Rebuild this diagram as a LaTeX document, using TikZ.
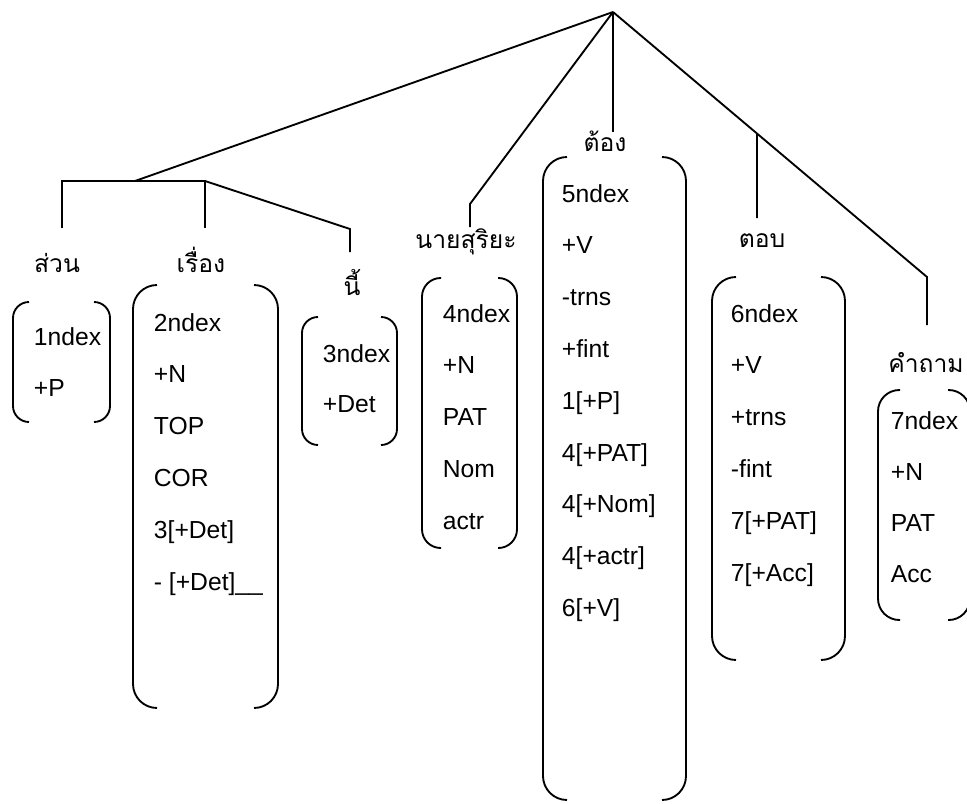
\documentclass[tikz,border=0pt]{standalone}
\usepackage{fontspec}
\setmainfont{Liberation Sans}
\newfontfamily\thaifont[Script=Thai]{Loma}
\usetikzlibrary{calc}

% a pair of tall round brackets: left x, right x, top y, bottom y, corner radius (pt), stub (px)
\newcommand\parenpair[6]{%
  \draw[rounded corners=#5] (#1+#6,#3) -- (#1,#3) -- (#1,#4) -- (#1+#6,#4);
  \draw[rounded corners=#5] (#2-#6,#3) -- (#2,#3) -- (#2,#4) -- (#2-#6,#4);
}

\begin{document}
\begin{tikzpicture}[x=0.75pt,y=-0.75pt,line width=1.4pt,
  item/.style={font=\fontsize{18.5}{22}\selectfont,inner sep=0pt,anchor=base west},
  word/.style={font=\thaifont\fontsize{18.5}{22}\selectfont,inner sep=0pt,anchor=base}]
\useasboundingbox[fill=white] (0,0) rectangle (967,803);

% tree skeleton
\coordinate (root) at (613,12);
\coordinate (barL) at (62,181);
\coordinate (barJ) at (135,181);
\coordinate (barM) at (205,181);
\coordinate (v1) at (62,228);
\coordinate (v2) at (205,228);
\coordinate (k3) at (350,229);
\coordinate (v3) at (350,252);
\coordinate (k4) at (470,204);
\coordinate (v4) at (470,227);
\coordinate (v5) at (613,132);
\coordinate (k7) at (927,277);
\coordinate (v7) at (927,325);
\coordinate (k6) at ($(root)!{(757-613)/(927-613)}!(k7)$);
\coordinate (v6) at (757,218);

\draw (root) -- (barJ);
\draw (v1) -- (barL) -- (barM) -- (v2);
\draw (barM) -- (k3) -- (v3);
\draw (root) -- (k4) -- (v4);
\draw (root) -- (v5);
\draw (root) -- (k7) -- (v7);
\draw (k6) -- (v6);

% word labels
\node[word] (w1) at (57,272) {ส่วน};
\node[word] (w2) at (201,272) {เรื่อง};
\node[word] (w3) at (352,295) {นี้};
\node[word] (w4) at (466,248) {นายสุริยะ};
\node[word] (w5) at (605,151) {ต้อง};
\node[word] (w6) at (762,247) {ตอบ};
\node[word] (w7) at (926,372) {คำถาม};

% feature brackets
\parenpair{13}{110}{302}{422}{12pt}{16}
\parenpair{133}{278}{285}{708}{18pt}{24}
\parenpair{302}{397}{317}{445}{12pt}{16}
\parenpair{422}{517}{278}{548}{14pt}{19}
\parenpair{543}{686}{157}{800}{18pt}{24}
\parenpair{712}{845}{277}{660}{18pt}{24}
\parenpair{878}{970}{390}{620}{16pt}{22}

% feature lists
\foreach \t [count=\i] in {1ndex,+P}
  \node[item] (a\i) at (33,{336+9+51*(\i-1)}) {\t};
\foreach \t [count=\i] in {2ndex,+N,TOP,COR,{3[+Det]},{- [+Det]\_\_}}
  \node[item] (b\i) at (153,{322+9+51.8*(\i-1)}) {\t};
\foreach \t [count=\i] in {3ndex,+Det}
  \node[item] (c\i) at (322,{353+9+50*(\i-1)}) {\t};
\foreach \t [count=\i] in {4ndex,+N,PAT,Nom,actr}
  \node[item] (d\i) at (442,{313+9+51.8*(\i-1)}) {\t};
\foreach \t [count=\i] in {5ndex,+V,-trns,+fint,{1[+P]},{4[+PAT]},{4[+Nom]},{4[+actr]},{6[+V]}}
  \node[item] (e\i) at (561,{193+9+51.8*(\i-1)}) {\t};
\foreach \t [count=\i] in {6ndex,+V,+trns,-fint,{7[+PAT]},{7[+Acc]}}
  \node[item] (f\i) at (730,{313+9+51.8*(\i-1)}) {\t};
\foreach \t [count=\i] in {7ndex,+N,PAT,Acc}
  \node[item] (g\i) at (890,{420+9+51*(\i-1)}) {\t};
\end{tikzpicture}
\end{document}
